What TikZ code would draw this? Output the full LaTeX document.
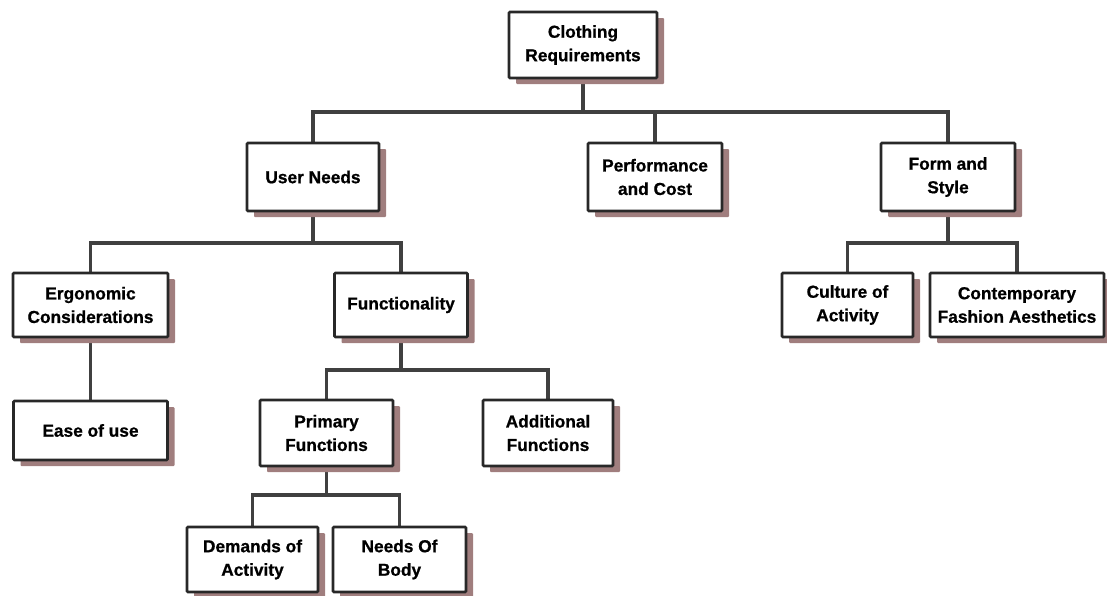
\documentclass[tikz,border=0pt]{standalone}
\usepackage{fontspec}
\setmainfont{Liberation Sans}
\newfontfamily\heavyfont[FakeBold=0.8]{Liberation Sans Bold}
\usetikzlibrary{shadows,backgrounds}
\definecolor{shadowcol}{RGB}{160,126,126}
\definecolor{linecol}{RGB}{64,64,64}
\definecolor{boxcol}{RGB}{40,40,40}
\tikzset{
  box/.style={draw=boxcol, line width=2.6pt, fill=white, align=center,
    rounded corners=1pt, inner sep=0pt,
    font=\heavyfont\fontsize{17.3}{23.5}\selectfont,
    drop shadow={shadow xshift=7pt, shadow yshift=-6pt, fill=shadowcol, opacity=1}},
  conn/.style={draw=linecol, line width=3.5pt}
}
\begin{document}
\begin{tikzpicture}[x=1pt,y=-1pt]
\useasboundingbox (0,0) rectangle (1107,595);
% level 0
\node[box, minimum width=148pt, minimum height=66pt] (top) at (583,45) {Clothing\\Requirements};
% level 1
\node[box, minimum width=132pt, minimum height=68pt] (un) at (313,177) {User Needs};
\node[box, minimum width=134pt, minimum height=68pt] (pc) at (655,177) {Performance\\and Cost};
\node[box, minimum width=134pt, minimum height=68pt] (fs) at (948,177) {Form and\\Style};
% level 2
\node[box, minimum width=155pt, minimum height=64pt] (er) at (90.5,305) {Ergonomic\\Considerations};
\node[box, minimum width=133pt, minimum height=64pt] (fu) at (401,305) {Functionality};
\node[box, minimum width=131pt, minimum height=64pt] (cu) at (847.5,305) {Culture of\\Activity};
\node[box, minimum width=174pt, minimum height=64pt] (co) at (1017,305) {Contemporary\\Fashion Aesthetics};
% level 3
\node[box, minimum width=154pt, minimum height=59pt] (ea) at (90.5,430.5) {Ease of use};
\node[box, minimum width=133pt, minimum height=66pt] (pf) at (326.5,433) {Primary\\Functions};
\node[box, minimum width=130pt, minimum height=66pt] (af) at (548,433) {Additional\\Functions};
% level 4
\node[box, minimum width=131pt, minimum height=65pt] (de) at (252.5,559.5) {Demands of\\Activity};
\node[box, minimum width=133pt, minimum height=65pt] (nb) at (399.5,559.5) {Needs Of\\Body};
% bus coordinates
\coordinate (b1) at (0,112);
\coordinate (b2) at (0,243);
\coordinate (b3) at (0,243);
\coordinate (b4) at (0,370);
\coordinate (b5) at (0,495);
% connectors
\begin{scope}[on background layer]
\draw[conn] (top.south) -- (top.south |- b1);
\draw[conn] (un.north) -- (un.north |- b1) -- (fs.north |- b1) -- (fs.north);
\draw[conn] (pc.north) -- (pc.north |- b1);
\draw[conn] (un.south) -- (un.south |- b2);
\draw[conn] (er.north) -- (er.north |- b2) -- (fu.north |- b2) -- (fu.north);
\draw[conn] (fs.south) -- (fs.south |- b3);
\draw[conn] (cu.north) -- (cu.north |- b3) -- (co.north |- b3) -- (co.north);
\draw[conn] (er.south) -- (ea.north);
\draw[conn] (fu.south) -- (fu.south |- b4);
\draw[conn] (pf.north) -- (pf.north |- b4) -- (af.north |- b4) -- (af.north);
\draw[conn] (pf.south) -- (pf.south |- b5);
\draw[conn] (de.north) -- (de.north |- b5) -- (nb.north |- b5) -- (nb.north);
\end{scope}
\end{tikzpicture}
\end{document}
